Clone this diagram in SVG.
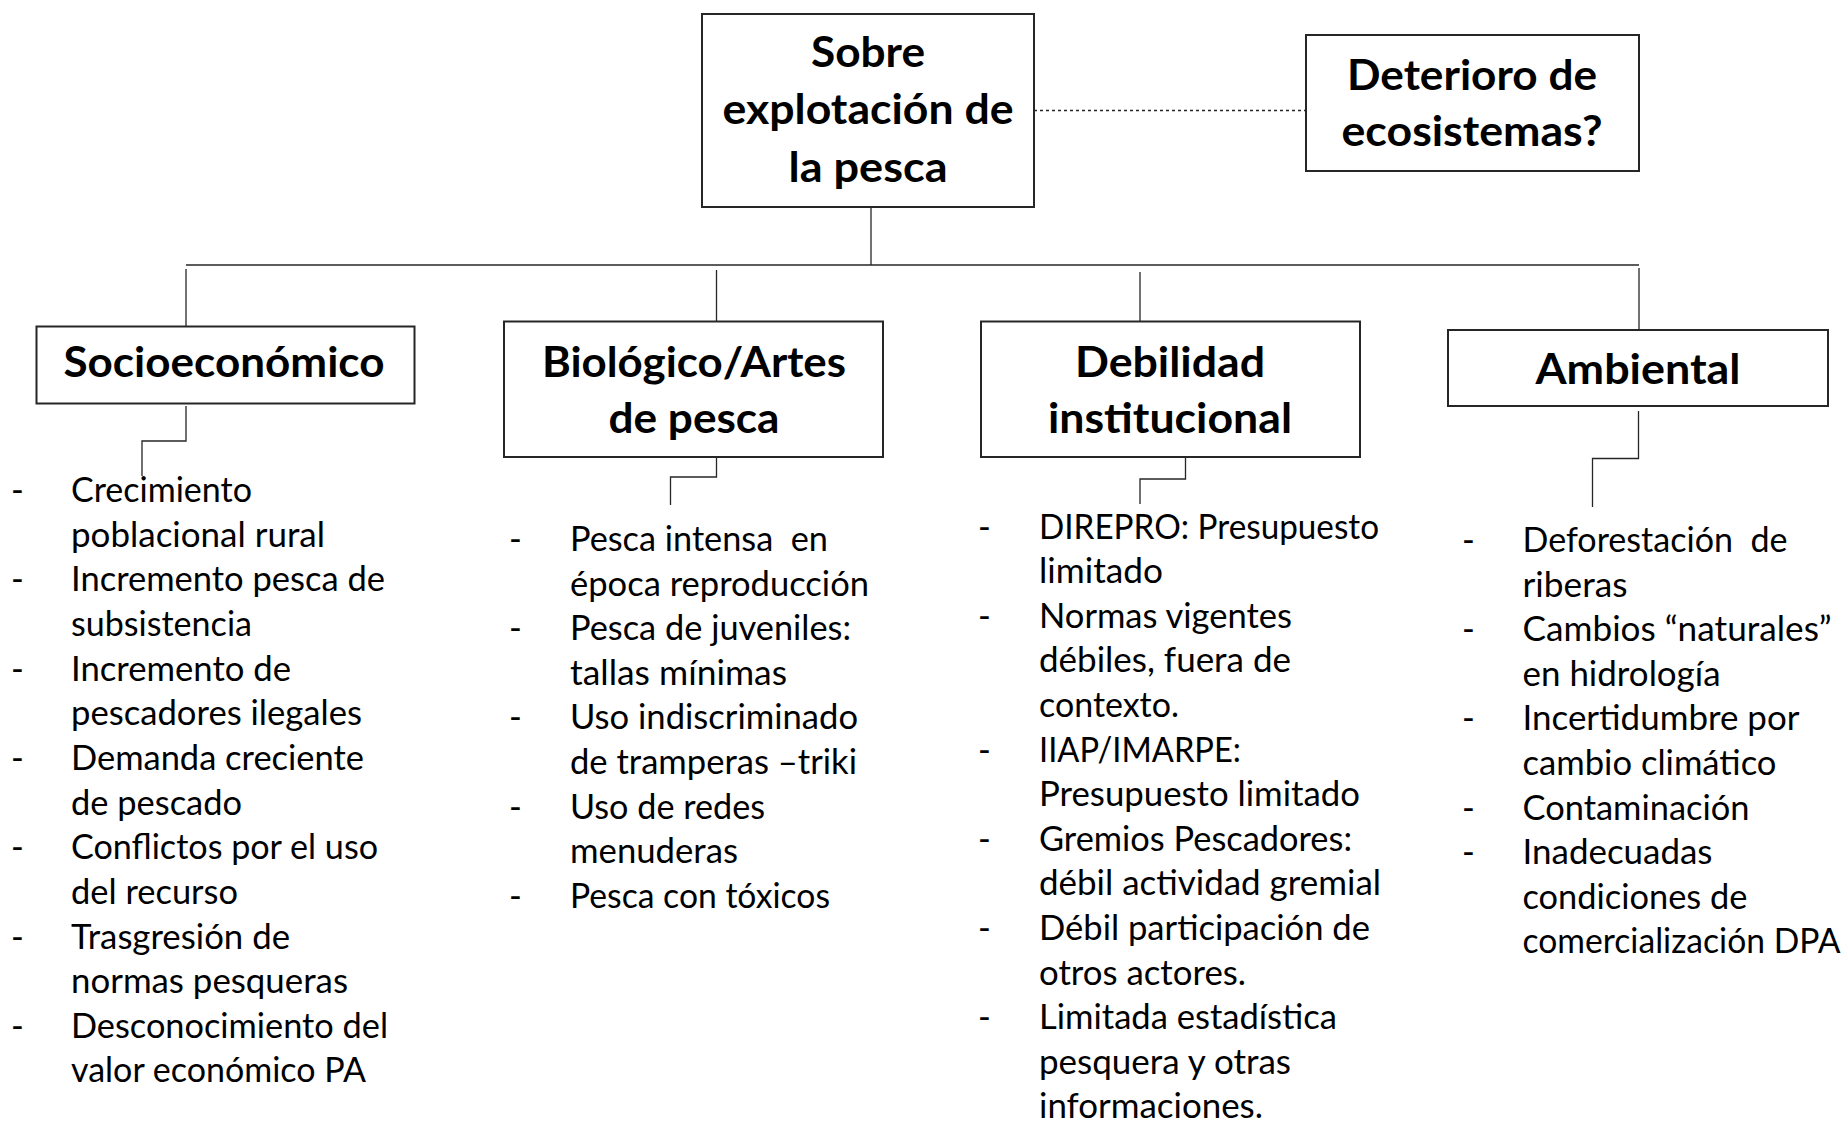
<svg xmlns="http://www.w3.org/2000/svg" width="1846" height="1123" viewBox="0 0 1846 1123">
<style>
  .box { fill: #ffffff; stroke: #262626; stroke-width: 2; }
  .ttl { font-family: Lato, "Liberation Sans", sans-serif; font-weight: bold; font-size: 42px; fill: #000; text-anchor: middle; }
  .item { font-family: Lato, "Liberation Sans", sans-serif; font-size: 34.5px; fill: #000; }
  .conn { fill: none; stroke: #262626; stroke-width: 1.3; }
  .dash { fill: none; stroke: #262626; stroke-width: 1.3; stroke-dasharray: 3 3; }
</style>
<rect width="1846" height="1123" fill="#ffffff"/>

<g id="connectors">
  <line class="dash" x1="1034" y1="110.5" x2="1306" y2="110.5"/>
  <polyline class="conn" points="871,207 871,265"/>
  <polyline class="conn" points="186,265 1639,265"/>
  <polyline class="conn" points="186,269 186,326"/>
  <polyline class="conn" points="716.5,270 716.5,324"/>
  <polyline class="conn" points="1140,272 1140,321"/>
  <polyline class="conn" points="1639,268 1639,330"/>
  <polyline class="conn" points="186,406 186,441 142,441 142,476"/>
  <polyline class="conn" points="716.5,449 716.5,477 670.5,477 670.5,505"/>
  <polyline class="conn" points="1185.5,453 1185.5,479 1140,479 1140,504"/>
  <polyline class="conn" points="1638.5,411 1638.5,458.5 1592.5,458.5 1592.5,507"/>
</g>

<g id="node-main">
  <rect class="box" x="702" y="14" width="332" height="193"/>
  <text class="ttl" x="868" y="67" textLength="114" lengthAdjust="spacingAndGlyphs">Sobre</text>
  <text class="ttl" x="868" y="124" textLength="291" lengthAdjust="spacingAndGlyphs">explotación de</text>
  <text class="ttl" x="868" y="182" textLength="159" lengthAdjust="spacingAndGlyphs">la pesca</text>
</g>

<g id="node-deterioro">
  <rect class="box" x="1306" y="35" width="333" height="136"/>
  <text class="ttl" x="1472" y="90" textLength="250" lengthAdjust="spacingAndGlyphs">Deterioro de</text>
  <text class="ttl" x="1472" y="146" textLength="261" lengthAdjust="spacingAndGlyphs">ecosistemas?</text>
</g>

<g id="node-socio">
  <rect class="box" x="36.5" y="326.5" width="378" height="77"/>
  <text class="ttl" x="224" y="377" textLength="321" lengthAdjust="spacingAndGlyphs">Socioeconómico</text>
</g>

<g id="node-bio">
  <rect class="box" x="504" y="321.5" width="379" height="135.5"/>
  <text class="ttl" x="694" y="377" textLength="304" lengthAdjust="spacingAndGlyphs">Biológico/Artes</text>
  <text class="ttl" x="694" y="433" textLength="171" lengthAdjust="spacingAndGlyphs">de pesca</text>
</g>

<g id="node-debil">
  <rect class="box" x="981" y="321.5" width="379" height="135.5"/>
  <text class="ttl" x="1170" y="377" textLength="190" lengthAdjust="spacingAndGlyphs">Debilidad</text>
  <text class="ttl" x="1170" y="433" textLength="244" lengthAdjust="spacingAndGlyphs">institucional</text>
</g>

<g id="node-ambiental">
  <rect class="box" x="1448" y="330" width="380" height="76"/>
  <text class="ttl" x="1638" y="384" textLength="205" lengthAdjust="spacingAndGlyphs">Ambiental</text>
</g>

<g id="list-socio" class="item">
  <text x="11" y="502">-</text>
  <text x="71" y="502" textLength="181" lengthAdjust="spacingAndGlyphs">Crecimiento</text>
  <text x="71" y="546.6" textLength="254" lengthAdjust="spacingAndGlyphs">poblacional rural</text>
  <text x="11" y="591.3">-</text>
  <text x="71" y="591.3" textLength="314" lengthAdjust="spacingAndGlyphs">Incremento pesca de</text>
  <text x="71" y="636" textLength="181" lengthAdjust="spacingAndGlyphs">subsistencia</text>
  <text x="11" y="680.6">-</text>
  <text x="71" y="680.6" textLength="220" lengthAdjust="spacingAndGlyphs">Incremento de</text>
  <text x="71" y="725.2" textLength="291" lengthAdjust="spacingAndGlyphs">pescadores ilegales</text>
  <text x="11" y="769.9">-</text>
  <text x="71" y="769.9" textLength="293" lengthAdjust="spacingAndGlyphs">Demanda creciente</text>
  <text x="71" y="814.5" textLength="171" lengthAdjust="spacingAndGlyphs">de pescado</text>
  <text x="11" y="859.2">-</text>
  <text x="71" y="859.2" textLength="307" lengthAdjust="spacingAndGlyphs">Conflictos por el uso</text>
  <text x="71" y="903.8" textLength="167" lengthAdjust="spacingAndGlyphs">del recurso</text>
  <text x="11" y="948.5">-</text>
  <text x="71" y="948.5" textLength="219" lengthAdjust="spacingAndGlyphs">Trasgresión de</text>
  <text x="71" y="993.1" textLength="277" lengthAdjust="spacingAndGlyphs">normas pesqueras</text>
  <text x="11" y="1037.8">-</text>
  <text x="71" y="1037.8" textLength="317" lengthAdjust="spacingAndGlyphs">Desconocimiento del</text>
  <text x="71" y="1082.4" textLength="295" lengthAdjust="spacingAndGlyphs">valor económico PA</text>
</g>

<g id="list-bio" class="item">
  <text x="509" y="551">-</text>
  <text x="570" y="551" xml:space="preserve" textLength="258" lengthAdjust="spacingAndGlyphs">Pesca intensa  en</text>
  <text x="570" y="595.6" textLength="299" lengthAdjust="spacingAndGlyphs">época reproducción</text>
  <text x="509" y="640.2">-</text>
  <text x="570" y="640.2" textLength="281" lengthAdjust="spacingAndGlyphs">Pesca de juveniles:</text>
  <text x="570" y="684.8" textLength="217" lengthAdjust="spacingAndGlyphs">tallas mínimas</text>
  <text x="509" y="729.4">-</text>
  <text x="570" y="729.4" textLength="288" lengthAdjust="spacingAndGlyphs">Uso indiscriminado</text>
  <text x="570" y="774" textLength="287" lengthAdjust="spacingAndGlyphs">de tramperas –triki</text>
  <text x="509" y="818.6">-</text>
  <text x="570" y="818.6" textLength="195" lengthAdjust="spacingAndGlyphs">Uso de redes</text>
  <text x="570" y="863.2" textLength="168" lengthAdjust="spacingAndGlyphs">menuderas</text>
  <text x="509" y="907.8">-</text>
  <text x="570" y="907.8" textLength="260" lengthAdjust="spacingAndGlyphs">Pesca con tóxicos</text>
</g>

<g id="list-debil" class="item">
  <text x="978" y="538.5">-</text>
  <text x="1039" y="538.5" textLength="340" lengthAdjust="spacingAndGlyphs">DIREPRO: Presupuesto</text>
  <text x="1039" y="583.1" textLength="124" lengthAdjust="spacingAndGlyphs">limitado</text>
  <text x="978" y="627.7">-</text>
  <text x="1039" y="627.7" textLength="253" lengthAdjust="spacingAndGlyphs">Normas vigentes</text>
  <text x="1039" y="672.3" textLength="252" lengthAdjust="spacingAndGlyphs">débiles, fuera de</text>
  <text x="1039" y="716.9" textLength="140" lengthAdjust="spacingAndGlyphs">contexto.</text>
  <text x="978" y="761.5">-</text>
  <text x="1039" y="761.5" textLength="202" lengthAdjust="spacingAndGlyphs">IIAP/IMARPE:</text>
  <text x="1039" y="806.1" textLength="321" lengthAdjust="spacingAndGlyphs">Presupuesto limitado</text>
  <text x="978" y="850.7">-</text>
  <text x="1039" y="850.7" textLength="313" lengthAdjust="spacingAndGlyphs">Gremios Pescadores:</text>
  <text x="1039" y="895.3" textLength="342" lengthAdjust="spacingAndGlyphs">débil actividad gremial</text>
  <text x="978" y="939.9">-</text>
  <text x="1039" y="939.9" textLength="331" lengthAdjust="spacingAndGlyphs">Débil participación de</text>
  <text x="1039" y="984.5" textLength="207" lengthAdjust="spacingAndGlyphs">otros actores.</text>
  <text x="978" y="1029.1">-</text>
  <text x="1039" y="1029.1" textLength="298" lengthAdjust="spacingAndGlyphs">Limitada estadística</text>
  <text x="1039" y="1073.7" textLength="252" lengthAdjust="spacingAndGlyphs">pesquera y otras</text>
  <text x="1039" y="1118.3" textLength="224" lengthAdjust="spacingAndGlyphs">informaciones.</text>
</g>

<g id="list-ambiental" class="item">
  <text x="1462" y="552">-</text>
  <text x="1522.5" y="552" xml:space="preserve" textLength="265" lengthAdjust="spacingAndGlyphs">Deforestación  de</text>
  <text x="1522.5" y="596.6" textLength="105" lengthAdjust="spacingAndGlyphs">riberas</text>
  <text x="1462" y="641.2">-</text>
  <text x="1522.5" y="641.2" textLength="309" lengthAdjust="spacingAndGlyphs">Cambios “naturales”</text>
  <text x="1522.5" y="685.8" textLength="198" lengthAdjust="spacingAndGlyphs">en hidrología</text>
  <text x="1462" y="730.4">-</text>
  <text x="1522.5" y="730.4" textLength="277" lengthAdjust="spacingAndGlyphs">Incertidumbre por</text>
  <text x="1522.5" y="775" textLength="254" lengthAdjust="spacingAndGlyphs">cambio climático</text>
  <text x="1462" y="819.6">-</text>
  <text x="1522.5" y="819.6" textLength="227" lengthAdjust="spacingAndGlyphs">Contaminación</text>
  <text x="1462" y="864.2">-</text>
  <text x="1522.5" y="864.2" textLength="190" lengthAdjust="spacingAndGlyphs">Inadecuadas</text>
  <text x="1522.5" y="908.8" textLength="225" lengthAdjust="spacingAndGlyphs">condiciones de</text>
  <text x="1522.5" y="953.4" textLength="318" lengthAdjust="spacingAndGlyphs">comercialización DPA</text>
</g>
</svg>
